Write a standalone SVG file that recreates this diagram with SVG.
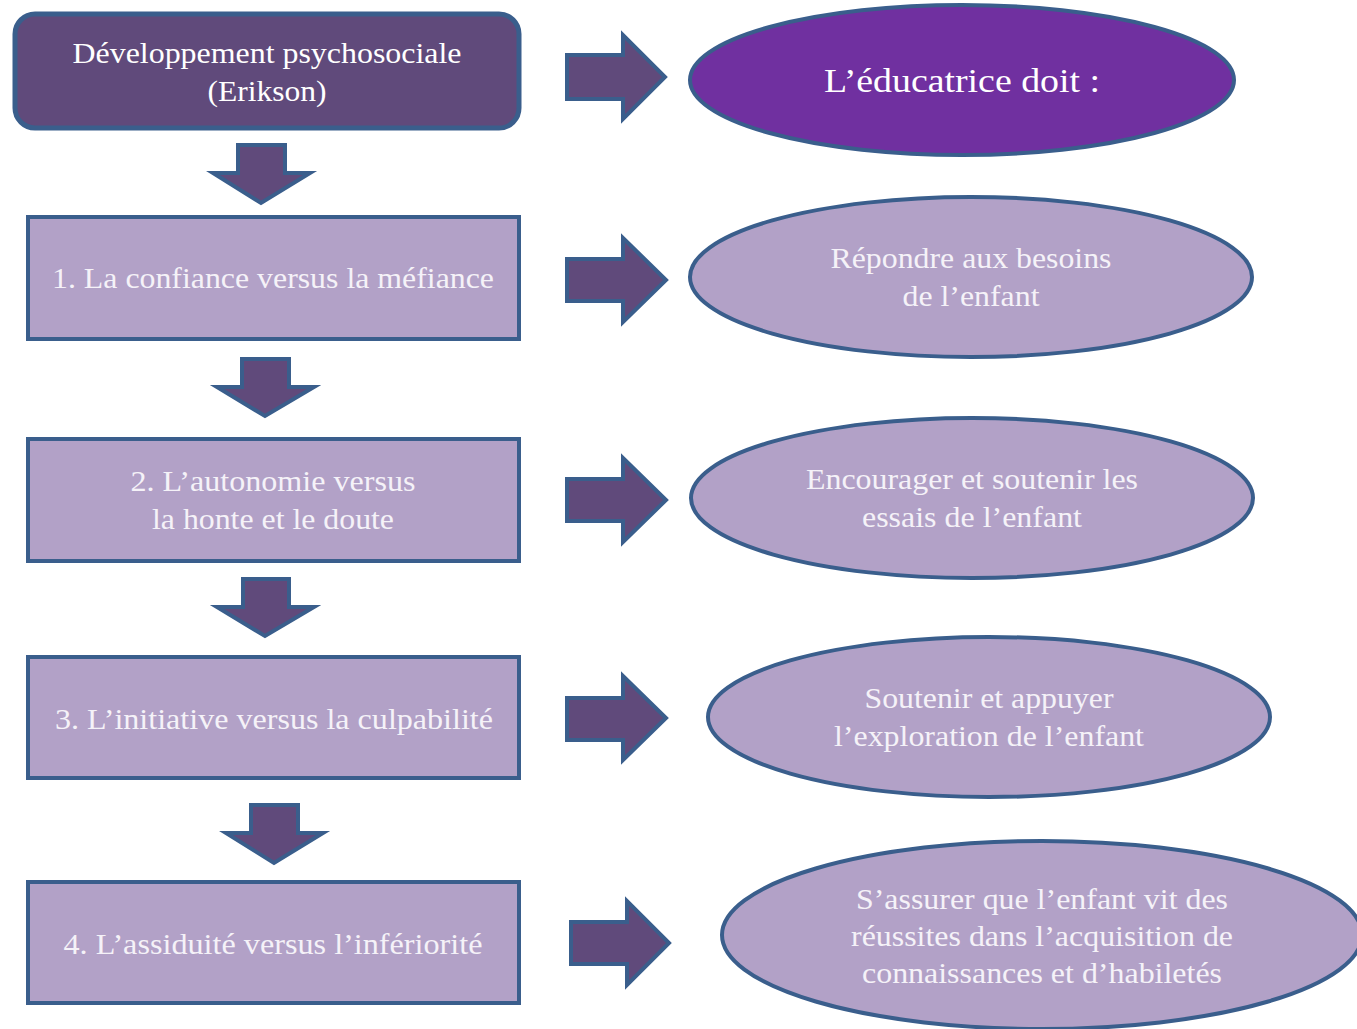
<svg xmlns="http://www.w3.org/2000/svg" width="1357" height="1029" viewBox="0 0 1357 1029">
<style>
.dark{fill:#604A7B;stroke:#3A5E8C;stroke-width:5}
.box{fill:#B2A1C7;stroke:#3A5E8C;stroke-width:4}
.ell{fill:#B2A1C7;stroke:#3A5E8C;stroke-width:4}
.arr{fill:#604A7B;stroke:#3A5E8C;stroke-width:4;stroke-linejoin:miter}
text{font-family:"Liberation Serif","Times New Roman",serif;font-size:29px;fill:#FFFFFF;text-anchor:middle}
.lt{fill:#F5F2F8}
</style>
<rect width="1357" height="1029" fill="#FFFFFF"/>
<g id="connectors">
<path class="arr" d="M238,145 H285 V173 H310 L261,203 L213,173 H238 Z"/>
<path class="arr" d="M242,359 H289 V387 H314 L265,416 L217,387 H242 Z"/>
<path class="arr" d="M243,579 H289 V607 H314 L265,636 L217,607 H243 Z"/>
<path class="arr" d="M251,805 H298 V833 H323 L274,863 L226,833 H251 Z"/>
<path class="arr" d="M567,55 H623 V35 L665,77 L623,119 V99 H567 Z"/>
<path class="arr" d="M567,259 H623 V238 L666,280 L623,322 V301 H567 Z"/>
<path class="arr" d="M567,479 H623 V458 L666,500 L623,542 V521 H567 Z"/>
<path class="arr" d="M567,698 H623 V676 L666,718 L623,760 V740 H567 Z"/>
<path class="arr" d="M571,922 H627 V901 L669,943 L627,985 V964 H571 Z"/>
</g>
<g id="node-dev">
<rect class="dark" x="15" y="14" width="504" height="114" rx="20"/>
<text x="267" y="63" textLength="389" lengthAdjust="spacingAndGlyphs">Développement psychosociale</text>
<text x="267" y="101" textLength="119" lengthAdjust="spacingAndGlyphs">(Erikson)</text>
</g>
<g id="node-1">
<rect class="box" x="28" y="217" width="491" height="122"/>
<text class="lt" x="273" y="288" textLength="442" lengthAdjust="spacingAndGlyphs">1. La confiance versus la méfiance</text>
</g>
<g id="node-2">
<rect class="box" x="28" y="439" width="491" height="122"/>
<text class="lt" x="273" y="491" textLength="285" lengthAdjust="spacingAndGlyphs">2. L’autonomie versus</text>
<text class="lt" x="273" y="529" textLength="242" lengthAdjust="spacingAndGlyphs">la honte et le doute</text>
</g>
<g id="node-3">
<rect class="box" x="28" y="657" width="491" height="121"/>
<text class="lt" x="274" y="729" textLength="438" lengthAdjust="spacingAndGlyphs">3. L’initiative versus la culpabilité</text>
</g>
<g id="node-4">
<rect class="box" x="28" y="882" width="491" height="121"/>
<text class="lt" x="273" y="954" textLength="419" lengthAdjust="spacingAndGlyphs">4. L’assiduité versus l’infériorité</text>
</g>
<g id="node-educ">
<ellipse cx="962" cy="80" rx="272" ry="75" fill="#7030A0" stroke="#3A5E8C" stroke-width="4"/>
<text x="962" y="92" style="font-size:33px" textLength="276" lengthAdjust="spacingAndGlyphs">L’éducatrice doit :</text>
</g>
<g id="node-e1">
<ellipse class="ell" cx="971" cy="277" rx="281" ry="80"/>
<text class="lt" x="971" y="268" textLength="281" lengthAdjust="spacingAndGlyphs">Répondre aux besoins</text>
<text class="lt" x="971" y="306" textLength="137" lengthAdjust="spacingAndGlyphs">de l’enfant</text>
</g>
<g id="node-e2">
<ellipse class="ell" cx="972" cy="498" rx="281" ry="80"/>
<text class="lt" x="972" y="489" textLength="332" lengthAdjust="spacingAndGlyphs">Encourager et soutenir les</text>
<text class="lt" x="972" y="527" textLength="220" lengthAdjust="spacingAndGlyphs">essais de l’enfant</text>
</g>
<g id="node-e3">
<ellipse class="ell" cx="989" cy="717" rx="281" ry="80"/>
<text class="lt" x="989" y="708" textLength="249" lengthAdjust="spacingAndGlyphs">Soutenir et appuyer</text>
<text class="lt" x="989" y="746" textLength="310" lengthAdjust="spacingAndGlyphs">l’exploration de l’enfant</text>
</g>
<g id="node-e4">
<ellipse class="ell" cx="1042" cy="935" rx="320" ry="94"/>
<text class="lt" x="1042" y="909" textLength="372" lengthAdjust="spacingAndGlyphs">S’assurer que l’enfant vit des</text>
<text class="lt" x="1042" y="946" textLength="382" lengthAdjust="spacingAndGlyphs">réussites dans l’acquisition de</text>
<text class="lt" x="1042" y="983" textLength="360" lengthAdjust="spacingAndGlyphs">connaissances et d’habiletés</text>
</g>
</svg>
